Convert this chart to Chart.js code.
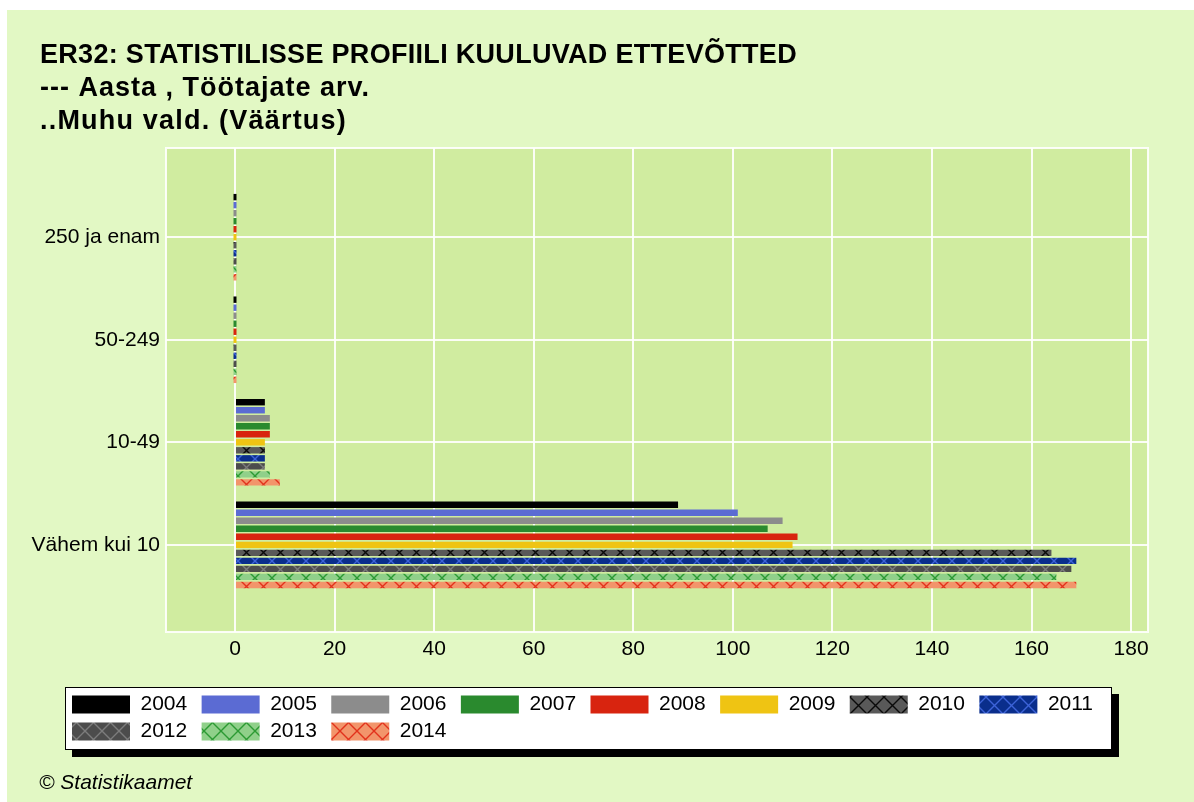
<!DOCTYPE html>
<html>
<head>
<meta charset="utf-8">
<title>ER32: Statistilisse profiili kuuluvad ettevõtted</title>
<script src="https://cdn.jsdelivr.net/npm/chart.js@4.4.1/dist/chart.umd.min.js"></script>
<style>
    body { margin: 0; background: #ffffff; }
    canvas { display: block; }
</style>
</head>
<body>
<canvas id="myChart" width="1194" height="802"></canvas>
<script>
var titleLines = [
    'ER32: STATISTILISSE PROFIILI KUULUVAD ETTEVÕTTED',
    '--- Aasta , Töötajate arv.',
    '..Muhu vald. (Väärtus)'
];
var sourceText = '© Statistikaamet';

// categories from bottom to top
var categories = ['Vähem kui 10', '10-49', '50-249', '250 ja enam'];
var years = ['2004', '2005', '2006', '2007', '2008', '2009', '2010', '2011', '2012', '2013', '2014'];

var valuesUnder10 = [89, 101, 110, 107, 113, 112, 164, 169, 168, 165, 169];
var values10to49 = [6, 6, 7, 7, 7, 6, 6, 6, 6, 7, 9];
var values50to249 = [0, 0, 0, 0, 0, 0, 0, 0, 0, 0, 0];
var values250plus = [0, 0, 0, 0, 0, 0, 0, 0, 0, 0, 0];

var xTicks = [0, 20, 40, 60, 80, 100, 120, 140, 160, 180];
var yTicks = [0, 1, 2, 3];

var seriesByCategory = [valuesUnder10, values10to49, values50to249, values250plus];

var FONT = '"Liberation Sans", Arial, sans-serif';

// solid fills 2004-2009, hatched fills 2010-2014
var solidColors = ['#000000', '#5b6bd3', '#8c8c8c', '#2a8a2e', '#d8240f', '#efc413'];
var hatchColors = [
    ['#595959', '#0a0a0a'],
    ['#0a2e8c', '#3d63d8'],
    ['#4c4c4c', '#7c7c7c'],
    ['#90d08a', '#2c9a33'],
    ['#f2956b', '#e2321c']
];

function makeHatch(bg, line) {
    var c = document.createElement('canvas');
    c.width = 17;
    c.height = 17;
    var g = c.getContext('2d');
    g.fillStyle = bg;
    g.fillRect(0, 0, 17, 17);
    g.strokeStyle = line;
    g.lineWidth = 1.4;
    g.beginPath();
    g.moveTo(0, 0); g.lineTo(17, 17);
    g.moveTo(17, 0); g.lineTo(0, 17);
    g.stroke();
    return g.createPattern(c, 'repeat');
}

var fills = solidColors.concat(hatchColors.map(function (h) { return makeHatch(h[0], h[1]); }));

var datasets = [];
for (var j = 0; j < years.length; j++) {
    var points = [];
    for (var i = 0; i < categories.length; i++) {
        points.push({ x: seriesByCategory[i][j], y: i });
    }
    datasets.push({
        label: years[j],
        data: points,
        backgroundColor: fills[j],
        borderWidth: 0,
        minBarLength: 3,
        barPercentage: 0.8,
        categoryPercentage: 0.86
    });
}

var backdrop = {
    id: 'backdrop',
    afterLayout: function (chart) {
        // let the long category names run past the left padding without clipping
        chart.scales.y.left = 0;
    },
    beforeDraw: function (chart) {
        var ctx = chart.ctx;
        var a = chart.chartArea;
        var lg = chart.legend;
        ctx.save();
        ctx.fillStyle = '#e2f8c4';
        ctx.fillRect(7, 10, chart.width - 7, chart.height - 10);
        ctx.fillStyle = '#d0eca0';
        ctx.fillRect(a.left, a.top, a.right - a.left, a.bottom - a.top);
        // legend frame with shadow
        ctx.fillStyle = '#000000';
        ctx.fillRect(72, lg.top + 6, 1047, 63);
        ctx.fillStyle = '#ffffff';
        ctx.fillRect(65, lg.top - 1, 1047, 63);
        ctx.strokeStyle = '#000000';
        ctx.lineWidth = 1;
        ctx.strokeRect(65.5, lg.top - 0.5, 1046, 62);
        ctx.restore();
    },
    beforeDatasetsDraw: function (chart) {
        var ctx = chart.ctx;
        var a = chart.chartArea;
        ctx.save();
        ctx.strokeStyle = 'rgba(255,255,255,0.9)';
        ctx.lineWidth = 2;
        ctx.strokeRect(a.left, a.top, a.right - a.left, a.bottom - a.top);
        ctx.restore();
    },
    afterDraw: function (chart) {
        var ctx = chart.ctx;
        ctx.save();
        ctx.fillStyle = '#000000';
        ctx.textBaseline = 'alphabetic';
        ctx.font = 'bold 27px ' + FONT;
        var spacing = ['0.3px', '1px', '1.2px'];
        for (var k = 0; k < titleLines.length; k++) {
            ctx.letterSpacing = spacing[k];
            ctx.fillText(titleLines[k], 40, 63 + k * 33);
        }
        ctx.letterSpacing = '0px';
        ctx.font = 'italic 21px ' + FONT;
        ctx.fillText(sourceText, 39, 789);
        ctx.restore();
    }
};

var ctx = document.getElementById('myChart');
var myChart = new Chart(ctx, {
    type: 'bar',
    data: { datasets: datasets },
    plugins: [backdrop],
    options: {
        indexAxis: 'y',
        responsive: false,
        devicePixelRatio: 1,
        animation: false,
        events: [],
        layout: { padding: { left: 66, right: 46, top: 148, bottom: 50 } },
        scales: {
            x: {
                type: 'linear',
                position: 'bottom',
                min: -13.86,
                max: 183.4,
                afterBuildTicks: function (scale) {
                    scale.ticks = xTicks.map(function (v) { return { value: v }; });
                },
                afterFit: function (scale) { scale.height = 56; },
                grid: { color: 'rgba(255,255,255,0.9)', lineWidth: 2, drawTicks: false },
                border: { display: false },
                ticks: { color: '#000000', font: { family: FONT, size: 21 }, padding: 5 }
            },
            y: {
                type: 'linear',
                position: 'left',
                offset: false,
                min: -0.85,
                max: 3.87,
                afterBuildTicks: function (scale) {
                    scale.ticks = yTicks.map(function (v) { return { value: v }; });
                },
                afterFit: function (scale) { scale.width = 100; },
                grid: { offset: false, color: 'rgba(255,255,255,0.9)', lineWidth: 2, drawTicks: false },
                border: { display: false },
                ticks: {
                    color: '#000000',
                    font: { family: FONT, size: 21 },
                    padding: 6,
                    callback: function (v) { return categories[v]; }
                }
            }
        },
        plugins: {
            tooltip: { enabled: false },
            title: { display: false },
            legend: {
                display: true,
                position: 'bottom',
                align: 'start',
                labels: {
                    boxWidth: 58,
                    boxHeight: 18,
                    padding: 6,
                    color: '#000000',
                    font: { family: FONT, size: 21 },
                    generateLabels: function (chart) {
                        var items = Chart.defaults.plugins.legend.labels.generateLabels(chart);
                        items.forEach(function (it) { it.text = it.text + '\u2009\u2009'; });
                        return items;
                    }
                }
            }
        }
    }
});
</script>
</body>
</html>
